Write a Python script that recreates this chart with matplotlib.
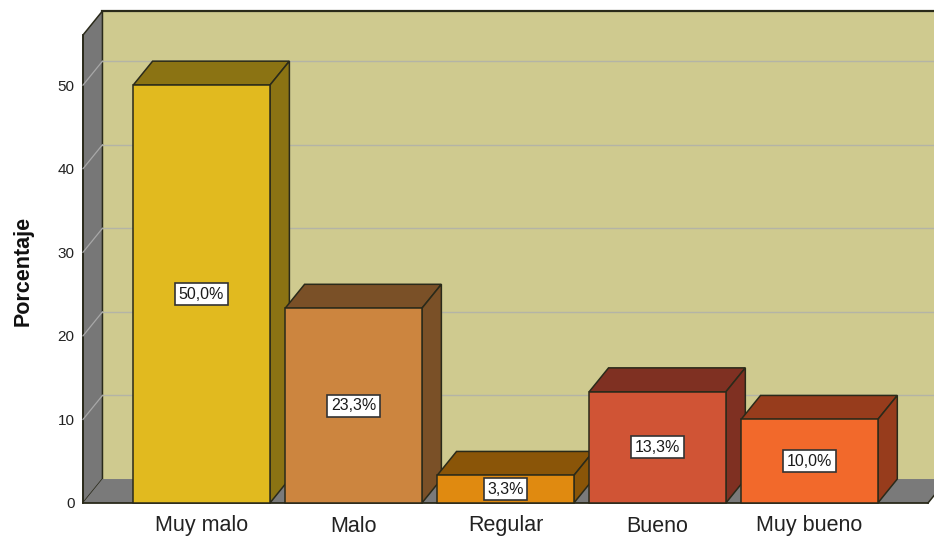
import matplotlib
matplotlib.use("Agg")
import matplotlib.pyplot as plt
from matplotlib.patches import Polygon, Rectangle

plt.rcParams['font.family'] = ['Liberation Sans', 'DejaVu Sans']

# data
categories = ['Muy malo', 'Malo', 'Regular', 'Bueno', 'Muy bueno']
percentages = [50.0, 23.3, 3.3, 13.3, 10.0]
front_colors = ['#E1BA1F', '#CC853F', '#E08A10', '#D05435', '#F2692B']
shade_colors = ['#8B7313', '#7A5027', '#8A5508', '#7F3022', '#973C1C']
yticks = [0, 10, 20, 30, 40, 50]

# layout of the pseudo 3D box (data units)
xl, xr = -0.78, 4.78
ymax = 56
dx, dy = 0.128, 2.87
bar_w = 0.9
edge = '#2a2a1a'

fig = plt.figure(figsize=(9.34, 5.38), dpi=100)
ax = fig.add_axes([83/934, 35/538, 845/934, 468/538])
ax.set_xlim(xl, xr)
ax.set_ylim(0, ymax)
for s in ax.spines.values():
    s.set_visible(False)
ax.patch.set_visible(False)

# back wall, left wall, floor
ax.add_patch(Polygon([(xl+dx, dy), (xr+dx+1, dy), (xr+dx+1, ymax+dy), (xl+dx, ymax+dy)],
                     closed=True, facecolor='#CFCA8F', edgecolor='none', clip_on=False, zorder=0))
ax.plot([xl+dx, xr+dx+1], [ymax+dy, ymax+dy], color=edge, lw=1.6, clip_on=False, zorder=1)
ax.add_patch(Polygon([(xl, 0), (xl, ymax), (xl+dx, ymax+dy), (xl+dx, dy)],
                     closed=True, facecolor='#777777', edgecolor=edge, lw=1.1, clip_on=False, zorder=1))
ax.add_patch(Polygon([(xl, 0), (xr, 0), (xr+dx, dy), (xl+dx, dy)],
                     closed=True, facecolor='#7a7a7a', edgecolor='none', clip_on=False, zorder=1))
ax.plot([xl, xr], [0, 0], color=edge, lw=1.3, clip_on=False, zorder=1)
ax.plot([xr, xr+dx], [0, dy], color=edge, lw=1.1, clip_on=False, zorder=1)
ax.plot([xl, xl], [0, ymax], color=edge, lw=1.3, clip_on=False, zorder=2)

# grid lines on back and side wall
for v in yticks[1:]:
    ax.plot([xl+dx, xr+dx+1], [v+dy, v+dy], color='#b4b4a6', lw=1.0, clip_on=False, zorder=1)
    ax.plot([xl, xl+dx], [v, v+dy], color='#a8a8a8', lw=0.9, clip_on=False, zorder=2)

# bars
z = 3
for i, (v, fc, sc) in enumerate(zip(percentages, front_colors, shade_colors)):
    x0, x1 = i - bar_w/2, i + bar_w/2
    ax.add_patch(Polygon([(x0, v), (x1, v), (x1+dx, v+dy), (x0+dx, v+dy)], closed=True,
                         facecolor=sc, edgecolor=edge, lw=1.1, clip_on=False, zorder=z))
    ax.add_patch(Polygon([(x1, 0), (x1, v), (x1+dx, v+dy), (x1+dx, dy)], closed=True,
                         facecolor=sc, edgecolor=edge, lw=1.1, clip_on=False, zorder=z))
    ax.add_patch(Rectangle((x0, 0), bar_w, v, facecolor=fc, edgecolor=edge, lw=1.1,
                           clip_on=False, zorder=z+1))
    ax.text(i, v/2, f'{v:.1f}%'.replace('.', ','), ha='center', va='center', fontsize=11.5,
            color='#1a1a1a', zorder=z+2,
            bbox=dict(boxstyle='square,pad=0.22', facecolor='white', edgecolor='#333333', lw=1.2))
    z += 3

ax.set_xticks(range(len(categories)))
ax.set_xticklabels(categories, fontsize=15.5, color='#222222')
ax.set_yticks(yticks)
ax.set_yticklabels([str(t) for t in yticks], fontsize=11, color='#222222')
ax.tick_params(axis='both', length=0)
ax.tick_params(axis='x', pad=9)
ax.tick_params(axis='y', pad=6)

fig.text(23/934, 1 - 271/538, 'Porcentaje', rotation=90, ha='center', va='center',
         fontsize=15.5, fontweight='bold', color='#111111')

fig.savefig('out.png', dpi=100)
